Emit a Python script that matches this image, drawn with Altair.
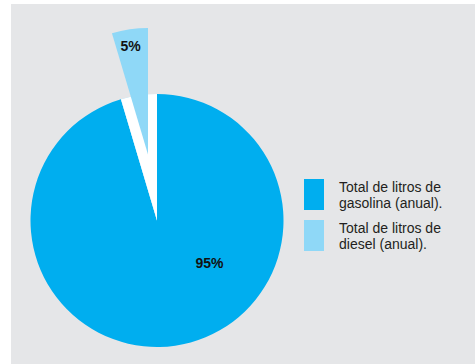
import altair as alt
import pandas as pd

categories = ["Total de litros de|gasolina (anual).", "Total de litros de|diesel (anual)."]
shares = [95.4, 4.6]
pct_labels = ["95%", "5%"]
order = [0, 1]
colors = ["#00aeef", "#8fd8f7"]

df = pd.DataFrame({"cat": categories, "share": shares, "label": pct_labels, "order": order})

base = (
    alt.Chart(df)
    .transform_joinaggregate(total="sum(share)")
    .transform_window(cum="sum(share)", sort=[alt.SortField("order")], frame=[None, 0])
    .transform_calculate(e="datum.cum / datum.total", s="(datum.cum - datum.share) / datum.total")
)

theta = alt.Theta("s:Q", scale=alt.Scale(domain=[0, 1], range=[0, 6.283185307179586]))
theta2 = alt.Theta2("e:Q")

R = 126.5
CX, CY = 146, 216.5
EX, EY = 137, 150.5

pie = base.mark_arc(radius=R).encode(
    theta=theta,
    theta2=theta2,
    color=alt.Color(
        "cat:N",
        scale=alt.Scale(domain=categories, range=colors),
        legend=alt.Legend(
            title=None,
            orient="none",
            legendX=287.5,
            legendY=175,
            symbolType="M-0.6452,-1H0.6452V1H-0.6452Z",
            symbolSize=961,
            symbolStrokeWidth=0,
            symbolOpacity=1,
            labelExpr="split(datum.label, '|')",
            labelFont="Liberation Sans",
            labelFontSize=14,
            labelColor="#231f20",
            labelBaseline="bottom",
            labelOffset=9.5,
            labelLimit=300,
            rowPadding=9,
            padding=0,
        ),
    ),
    x=alt.value(CX),
    y=alt.value(CY),
)

gap = base.transform_filter("datum.order == 1").mark_arc(radius=R, fill="white").encode(
    theta=theta, theta2=theta2, x=alt.value(CX), y=alt.value(CY)
)

exploded = base.transform_filter("datum.order == 1").mark_arc(radius=R, fill=colors[1]).encode(
    theta=theta, theta2=theta2, x=alt.value(EX), y=alt.value(EY)
)

t95 = base.transform_filter("datum.order == 0").mark_text(
    font="Liberation Sans", fontWeight="bold", fontSize=14, color="#111111"
).encode(text="label:N", x=alt.value(198.5), y=alt.value(259.5))

t5 = base.transform_filter("datum.order == 1").mark_text(
    font="Liberation Sans", fontWeight="bold", fontSize=14, color="#111111"
).encode(text="label:N", x=alt.value(119.5), y=alt.value(42.5))

chart = (
    alt.layer(pie, gap, exploded, t95, t5)
    .properties(
        width=464,
        height=360,
        padding={"left": 11, "top": 4, "right": 0, "bottom": 0},
        autosize="none",
        background="white",
    )
    .configure_view(fill="#e5e6e8", strokeWidth=0)
)

chart.save("out.html", embed_options={"renderer": "svg", "actions": False})
